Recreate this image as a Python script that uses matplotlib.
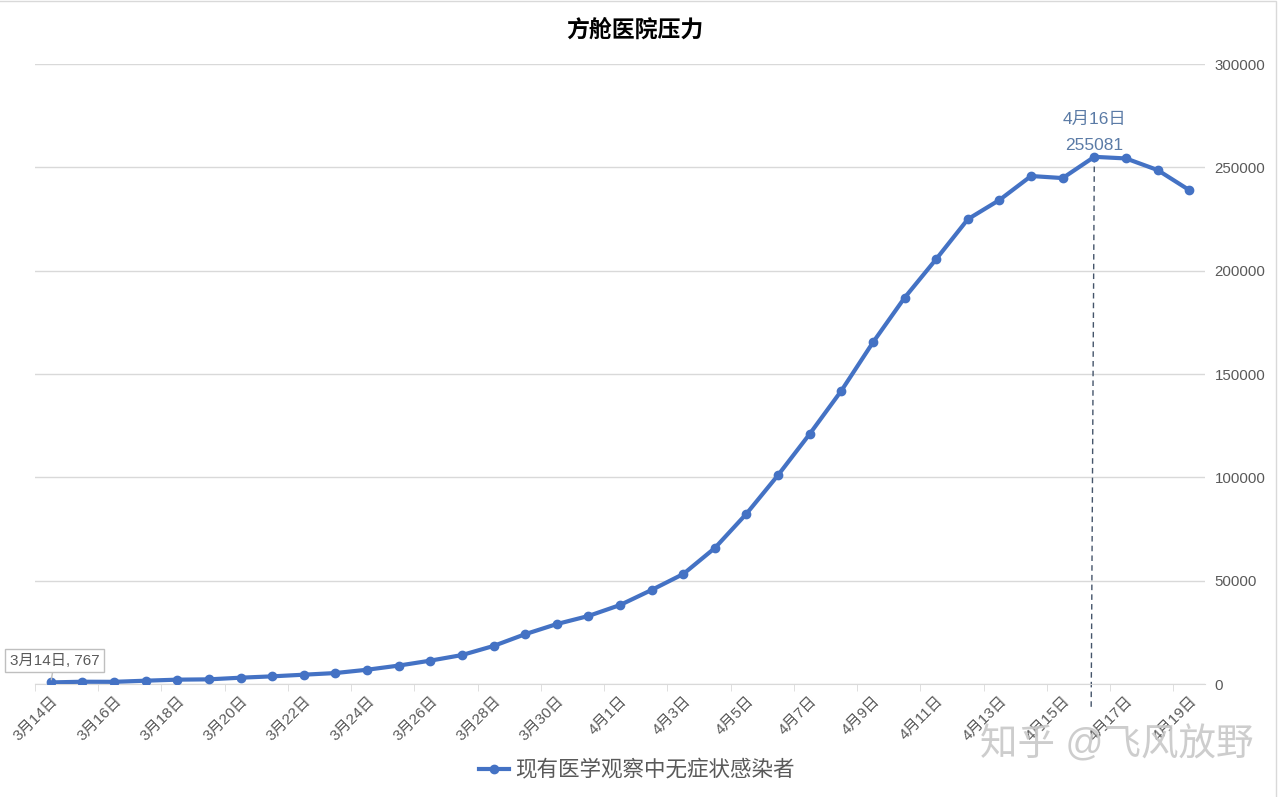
import matplotlib.pyplot as plt
from matplotlib.patches import Rectangle

plt.rcParams['font.family'] = ['Liberation Sans', 'Noto Sans CJK SC', 'DejaVu Sans']

# 现有医学观察中无症状感染者, 3月14日 - 4月19日
dates = ['3月14日', '3月15日', '3月16日', '3月17日', '3月18日', '3月19日', '3月20日',
         '3月21日', '3月22日', '3月23日', '3月24日', '3月25日', '3月26日', '3月27日',
         '3月28日', '3月29日', '3月30日', '3月31日', '4月1日', '4月2日', '4月3日',
         '4月4日', '4月5日', '4月6日', '4月7日', '4月8日', '4月9日', '4月10日',
         '4月11日', '4月12日', '4月13日', '4月14日', '4月15日', '4月16日', '4月17日',
         '4月18日', '4月19日']
values = [767, 1100, 1050, 1600, 2100, 2250, 3050, 3700, 4500, 5300, 6900, 8900,
          11300, 14000, 18400, 24100, 29000, 32900, 38200, 45500, 53200, 65800,
          82400, 101100, 121000, 141900, 165300, 186900, 205600, 224900, 234200,
          245800, 244800, 255081, 254300, 248700, 239000]

peak_idx = values.index(max(values))
blue = '#4472C4'
grey = '#595959'

fig = plt.figure(figsize=(12.87, 7.97), dpi=100)
ax = fig.add_axes([35/1287, 1-684/797, 1170/1287, 620/797])

x = list(range(len(values)))
ax.plot(x, values, '-o', color=blue, lw=3, ms=6, zorder=3,
        label='现有医学观察中无症状感染者')

ax.set_xlim(-0.45, len(values)-0.5)
ax.set_ylim(0, 300000)
ax.set_yticks(range(0, 300001, 50000))
ax.yaxis.tick_right()
ax.tick_params(axis='y', length=0, pad=7, labelsize=10.8, labelcolor=grey)
ax.grid(axis='y', color='#d9d9d9', lw=1)
ax.set_axisbelow(True)

ax.set_xticks(x[::2])
ax.set_xticklabels(dates[::2], rotation=45, ha='right', rotation_mode='anchor',
                   fontsize=11, color=grey)
ax.set_xticks([i - 0.5 for i in range(0, len(values)+1, 2)], minor=True)
ax.tick_params(axis='x', which='major', length=0, pad=7)
ax.tick_params(axis='x', which='minor', length=5, color='#d9d9d9')

for s in ['top', 'left', 'right']:
    ax.spines[s].set_visible(False)
ax.spines['bottom'].set_color('#d9d9d9')

# peak annotation
ax.plot([peak_idx, peak_idx - 0.1], [values[peak_idx], -12000], ls=(0, (4, 3)),
        color='#44546A', lw=1, clip_on=False, zorder=2)
ax.text(peak_idx, values[peak_idx] + 5700, '255081', ha='center', va='center',
        fontsize=12.5, color='#5B7BA6')
ax.text(peak_idx, values[peak_idx] + 18300, '4月16日', ha='center', va='center',
        fontsize=12.5, color='#5B7BA6')

# first point label
ax.annotate('3月14日, 767', xy=(0, values[0]), xytext=(0.12, 11300),
            ha='center', va='center', fontsize=11, color=grey,
            bbox=dict(boxstyle='square,pad=0.3', fc='white', ec='#bfbfbf', lw=1),
            arrowprops=dict(arrowstyle='-', color='#bfbfbf', lw=1,
                            shrinkA=0, shrinkB=2))

fig.text(635/1287, 1-30/797, '方舱医院压力', ha='center', va='center',
         fontsize=16.5, fontweight='bold', color='black')

fig.legend(loc='center', bbox_to_anchor=(637/1287, 1-771/797), frameon=False,
           fontsize=15.5, labelcolor=grey, handlelength=1.4, handletextpad=0.3)

fig.text(1117/1287, 1-745/797, '知乎 @飞风放野', ha='center', va='center',
         fontsize=27, color='#c8c8c8', alpha=0.9)

fig.patches.append(Rectangle((-0.01, -0.01), 1276/1287 + 0.01, 1 - 1/797 + 0.01,
                             transform=fig.transFigure, fill=False,
                             ec='#d9d9d9', lw=1))

fig.savefig('out.png', dpi=100)
